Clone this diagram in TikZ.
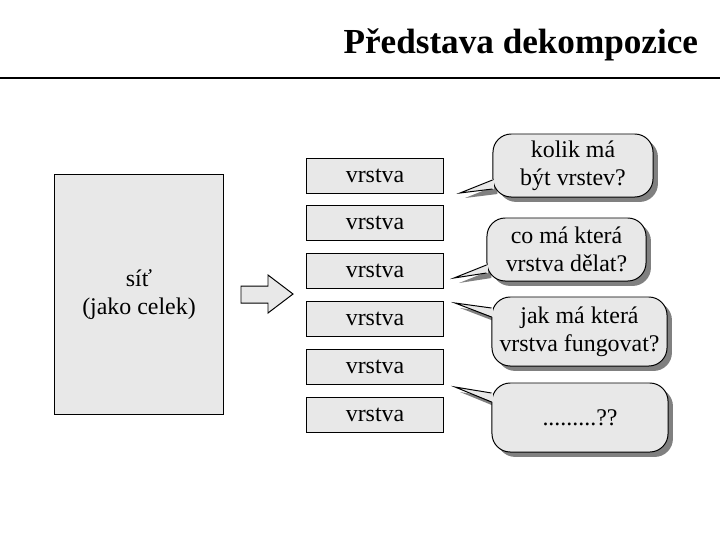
\documentclass[tikz,border=0pt]{standalone}
\usepackage{fontspec}
\setmainfont{Liberation Serif}
\usetikzlibrary{positioning,calc,shadows,backgrounds}

\begin{document}
\begin{tikzpicture}[x=0.025cm,y=-0.025cm,
		txt/.style={font=\fontsize{17}{20}\selectfont, align=center},
		layerbox/.style={txt, draw=black, line width=0.7pt, fill=gray!18,
			minimum width=3.4cm, minimum height=0.875cm, inner sep=0pt},
		bubble/.style={txt, draw=black, line width=0.7pt, fill=gray!18,
			rounded corners=13pt, inner sep=0pt,
			drop shadow={shadow xshift=3.5pt, shadow yshift=-3.5pt, fill=black!50, opacity=1}},
		tipfill/.style={fill=gray!18},
		tipshade/.style={fill=black!50}]
		\useasboundingbox (0,0) rectangle (720,540);

		% title and rule
		\node[anchor=base east, font=\bfseries\fontsize{25}{30}\selectfont] (title) at (703,53) {Představa dekompozice};
		\draw[line width=2pt] (0,78) -- (720,78);

		% whole network
		\node[txt, draw=black, line width=0.7pt, fill=gray!18,
			minimum width=4.2cm, minimum height=5.975cm] (net) at (139,294.5) {síť\\(jako celek)};

		% block arrow
		\draw[line width=0.7pt, fill=gray!18] (241,286) -- (268,286) -- (268,275) -- (293,294)
			-- (268,313) -- (268,303) -- (241,303) -- cycle;

		% layers
		\foreach \i in {0,...,5}
			\node[layerbox] (l\i) at (375,175.5+47.8*\i) {vrstva};

		% questions
		\node[bubble, minimum width=4cm, minimum height=1.575cm] (q1) at (573,165.5) {\raisebox{-3pt}{\begin{tabular}{@{}c@{}}kolik má\\být vrstev?\end{tabular}}};
		\node[bubble, minimum width=3.975cm, minimum height=1.575cm] (q2) at (566.5,249.5) {co má která\\vrstva dělat?};
		\node[bubble, minimum width=4.375cm, minimum height=1.725cm] (q3) at (579.5,331.5) {jak má která\\vrstva fungovat?};
		\node[bubble, minimum width=4.4cm, minimum height=1.725cm] (q4) at (580,417.5) {.........??};

		\coordinate (t1) at (460,193);
		\coordinate (t2) at (454,278);
		\coordinate (t3) at (455,303);
		\coordinate (t4) at (455,387);

		% pointers of the questions
		\begin{scope}[on background layer]
			\fill[tipshade] ($(t1)+(5,5)$) -- ($(q1.west |- 0,180)+(5,5)$) -- ($(q1.west |- 0,189)+(5,5)$) -- cycle;
			\fill[tipshade] ($(t2)+(5,5)$) -- ($(q2.west |- 0,265)+(5,5)$) -- ($(q2.west |- 0,273)+(5,5)$) -- cycle;
			\fill[tipshade] ($(t3)+(5,5)$) -- ($(q3.west |- 0,308)+(5,5)$) -- ($(q3.west |- 0,317)+(5,5)$) -- cycle;
			\fill[tipshade] ($(t4)+(5,5)$) -- ($(q4.west |- 0,393)+(5,5)$) -- ($(q4.west |- 0,402)+(5,5)$) -- cycle;
		\end{scope}

		\fill[tipfill] (t1) -- ($(q1.west |- 0,180)+(1.5,0)$) -- ($(q1.west |- 0,189)+(1.5,0)$) -- cycle;
		\fill[tipfill] (t2) -- ($(q2.west |- 0,265)+(1.5,0)$) -- ($(q2.west |- 0,273)+(1.5,0)$) -- cycle;
		\fill[tipfill] (t3) -- ($(q3.west |- 0,308)+(1.5,0)$) -- ($(q3.west |- 0,317)+(1.5,0)$) -- cycle;
		\fill[tipfill] (t4) -- ($(q4.west |- 0,393)+(1.5,0)$) -- ($(q4.west |- 0,402)+(1.5,0)$) -- cycle;

		\draw[line width=0.7pt] (q1.west |- 0,180) -- (t1) -- (q1.west |- 0,189);
		\draw[line width=0.7pt] (q2.west |- 0,265) -- (t2) -- (q2.west |- 0,273);
		\draw[line width=0.7pt] (q3.west |- 0,308) -- (t3) -- (q3.west |- 0,317);
		\draw[line width=0.7pt] (q4.west |- 0,393) -- (t4) -- (q4.west |- 0,402);

	\end{tikzpicture}
\end{document}
